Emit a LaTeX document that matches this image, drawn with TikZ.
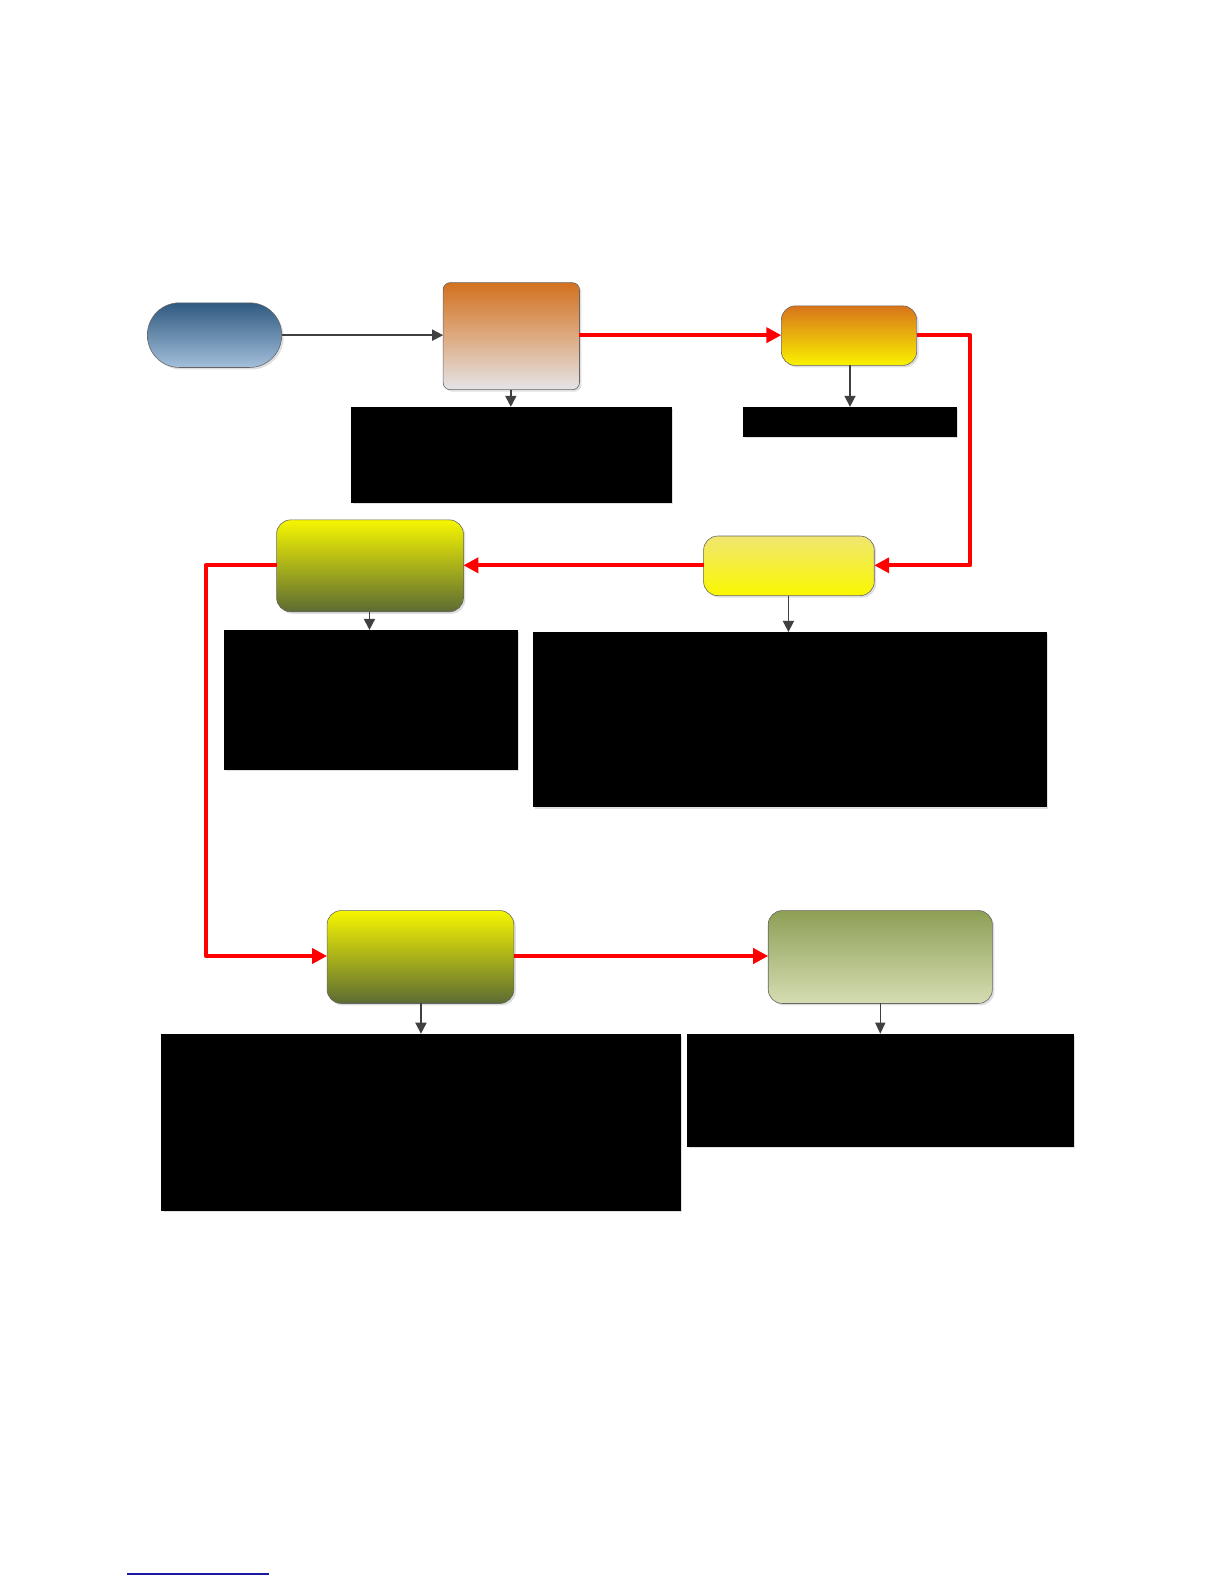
\documentclass[tikz,border=0pt]{standalone}
\usetikzlibrary{arrows.meta,shadows,shapes.misc}
\definecolor{startTop}{HTML}{2F5A80}
\definecolor{startBot}{HTML}{A3BFDB}
\definecolor{aTop}{HTML}{D2711F}
\definecolor{aMid}{HTML}{DDAA80}
\definecolor{aBot}{HTML}{E4E4E8}
\definecolor{bTop}{HTML}{D8741A}
\definecolor{bBot}{HTML}{FAF200}
\definecolor{cTop}{HTML}{F0E670}
\definecolor{cBot}{HTML}{FAF800}
\definecolor{dTop}{HTML}{F6F600}
\definecolor{dBot}{HTML}{5C6B33}
\definecolor{fTop}{HTML}{8E9F55}
\definecolor{fBot}{HTML}{D5DDB3}
\definecolor{darkarrow}{HTML}{404040}
\definecolor{linkblue}{HTML}{1A1AA0}
\tikzset{
  x=1.0095bp,y=-1.0095bp,
  shade box/.style={draw=gray!80!black, line width=0.6bp, rounded corners=#1,
    drop shadow={opacity=0.25,shadow xshift=2bp,shadow yshift=-2bp}},
  blackbox/.style={fill=black, draw=black,
    drop shadow={opacity=0.25,shadow xshift=2bp,shadow yshift=-2bp}},
  redflow/.style={draw=red, line width=4bp, line join=round,
    -{Triangle[length=15bp,width=15bp]}},
  darkflow/.style={draw=darkarrow, line width=1.7bp,
    -{Triangle[length=11bp,width=11bp]}},
  thinflow/.style={draw=darkarrow, line width=1.3bp,
    -{Triangle[length=11bp,width=10bp]}},
}
\begin{document}
\begin{tikzpicture}
% start stadium
\path[shade box=32bp, top color=startTop, bottom color=startBot]
  (146,300) rectangle (279,364);
\coordinate (sR) at (279,332);
% A
\path[shade box=7bp, top color=aTop, bottom color=aBot, middle color=aMid]
  (439,280) rectangle (574,386);
\coordinate (aL) at (439,332);
\coordinate (aR) at (574,332);
\coordinate (aB) at (506,386);
% B
\path[shade box=14bp, top color=bTop, bottom color=bBot]
  (774,303) rectangle (908,362);
\coordinate (bL) at (774,332);
\coordinate (bR) at (908,332);
\coordinate (bB) at (842,362);
% C
\path[shade box=14bp, top color=cTop, bottom color=cBot]
  (697,531) rectangle (866,590);
\coordinate (cL) at (697,560);
\coordinate (cR) at (866,560);
\coordinate (cB) at (781,590);
% D
\path[shade box=14bp, top color=dTop, bottom color=dBot]
  (274,515) rectangle (459,606);
\coordinate (dL) at (274,560);
\coordinate (dR) at (459,560);
\coordinate (dB) at (366,606);
% E
\path[shade box=14bp, top color=dTop, bottom color=dBot]
  (324,902) rectangle (509,994);
\coordinate (eL) at (324,947);
\coordinate (eR) at (509,947);
\coordinate (eB) at (417,994);
% F
\path[shade box=14bp, top color=fTop, bottom color=fBot]
  (761,902) rectangle (983,994);
\coordinate (fL) at (761,947);
\coordinate (fB) at (872,994);
% black boxes
\path[blackbox] (348,403) rectangle (665,497);
\coordinate (k1) at (506,403);
\path[blackbox] (736,403) rectangle (947,432);
\coordinate (k2) at (842,403);
\path[blackbox] (528,626) rectangle (1036,799);
\coordinate (k3) at (781,626);
\path[blackbox] (222,624) rectangle (512,762);
\coordinate (k4) at (366,624);
\path[blackbox] (160,1024) rectangle (674,1199);
\coordinate (k5) at (417,1024);
\path[blackbox] (681,1024) rectangle (1063,1135);
\coordinate (k6) at (872,1024);
% connectors
\draw[darkflow] (sR) -- (aL);
\draw[redflow] (aR) -- (bL);
\draw[redflow] (bR) -- (961,332) -- (961,560) -- (cR);
\draw[redflow] (cL) -- (dR);
\draw[redflow] (dL) -- (204,560) -- (204,947) -- (eL);
\draw[redflow] (eR) -- (fL);
\draw[darkflow] (aB) -- (k1);
\draw[darkflow] (bB) -- (k2);
\draw[darkflow] (cB) -- (k3);
\draw[darkflow] (dB) -- (k4);
\draw[darkflow] (eB) -- (k5);
\draw[thinflow] (fB) -- (k6);
% footnote rule
\coordinate (u1) at (125.8,1559.2);
\coordinate (u2) at (266.5,1559.2);
\draw[linkblue, line width=1.2bp] (u1) -- (u2);
\pgfresetboundingbox
\useasboundingbox (0,0) rectangle (1212.48,1569.09);
\end{tikzpicture}
\end{document}
